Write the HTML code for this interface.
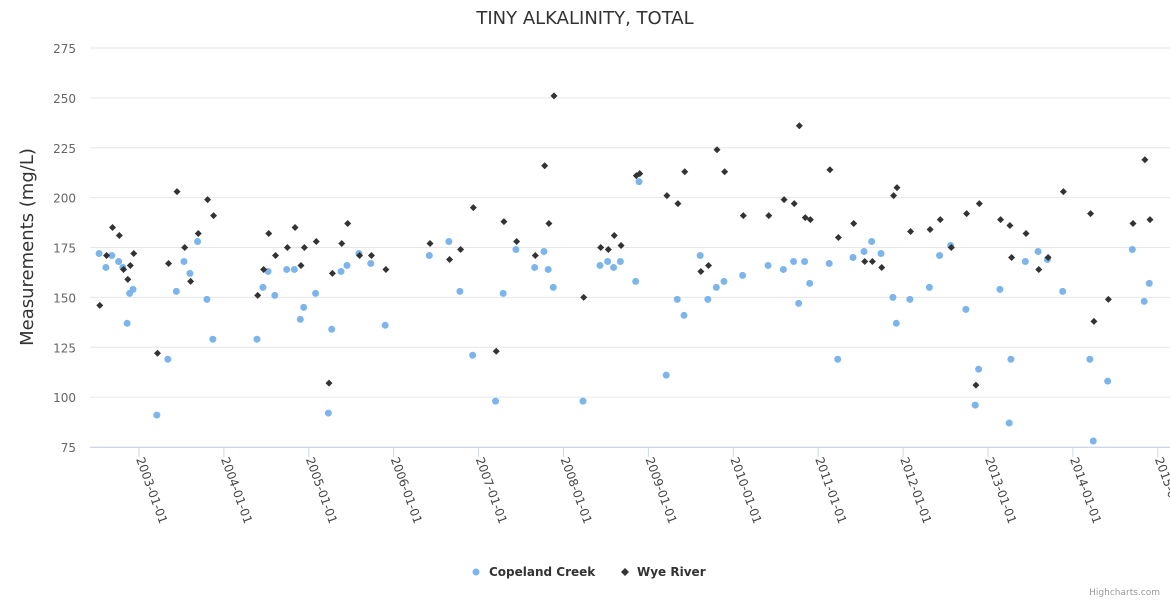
<!DOCTYPE html>
<html><head><meta charset="utf-8"><style>
body{margin:0;background:#fff;font-family:"DejaVu Sans",sans-serif}
svg{display:block}
</style></head><body>
<svg id="chart" width="1170" height="600" font-family="DejaVu Sans, sans-serif">
<rect width="1170" height="600" fill="#fff"/>
<text x="585" y="24" text-anchor="middle" font-size="18" fill="#333">TINY ALKALINITY, TOTAL</text>
<text transform="translate(33,247) rotate(-90)" text-anchor="middle" font-size="18" fill="#333">Measurements (mg/L)</text>
<g id="grid"></g><g id="xaxis"></g><g id="marks"></g>
<g>
<g><circle cx="476" cy="572" r="3.5" fill="#7cb5ec"/><text x="489" y="576" font-size="12" font-weight="bold" fill="#333">Copeland Creek</text></g>
<g><path d="M625 568 L629 572 L625 576 L621 572Z" fill="#333"/><text x="637" y="576" font-size="12" font-weight="bold" fill="#333">Wye River</text></g>
</g>
<text x="1160" y="595" text-anchor="end" font-size="9" fill="#999">Highcharts.com</text>
</svg>
<script>
const dates=[2002.53,2002.61,2002.68,2002.76,2002.81,2002.86,2002.89,2002.93,2003.21,2003.34,2003.44,2003.53,2003.60,2003.69,2003.80,2003.87,2004.39,2004.46,2004.52,2004.60,2004.74,2004.83,2004.90,2004.94,2005.08,2005.23,2005.27,2005.38,2005.45,2005.59,2005.73,2005.90,2006.42,2006.65,2006.78,2006.93,2007.20,2007.29,2007.44,2007.66,2007.77,2007.82,2007.88,2008.23,2008.43,2008.52,2008.59,2008.67,2008.85,2008.89,2009.21,2009.34,2009.42,2009.61,2009.70,2009.80,2009.89,2010.11,2010.41,2010.59,2010.71,2010.77,2010.84,2010.90,2011.13,2011.23,2011.41,2011.54,2011.63,2011.74,2011.88,2011.92,2012.08,2012.31,2012.43,2012.56,2012.74,2012.85,2012.89,2013.14,2013.25,2013.27,2013.44,2013.59,2013.70,2013.88,2014.20,2014.24,2014.41,2014.70,2014.84,2014.90];
const copeland=[172,165,171,168,165,137,152,154,91,119,153,168,162,178,149,129,129,155,163,151,164,164,139,145,152,92,134,163,166,172,167,136,171,178,153,121,98,152,174,165,173,164,155,98,166,168,165,168,158,208,111,149,141,171,149,155,158,161,166,164,168,147,168,157,167,119,170,173,178,172,150,137,149,155,171,176,144,96,114,154,87,119,168,173,169,153,119,78,108,174,148,157];
const wye=[146,171,185,181,164,159,166,172,122,167,203,175,158,182,199,191,151,164,182,171,175,185,166,175,178,107,162,177,187,171,171,164,177,169,174,195,123,188,178,171,216,187,251,150,175,174,181,176,211,212,201,197,213,163,166,224,213,191,191,199,197,236,190,189,214,180,187,168,168,165,201,205,183,184,189,175,192,106,197,189,186,170,182,164,170,203,192,138,149,187,219,189];
const yTicks=[75,100,125,150,175,200,225,250,275];
const xTickYears=[2003,2004,2005,2006,2007,2008,2009,2010,2011,2012,2013,2014,2015];
const X0=90,X1=1170,XMIN=2002.423,XMAX=2015.144,Y0=447,Y1=48;
const xs=v=>X0+(v-XMIN)/(XMAX-XMIN)*(X1-X0);
const ys=v=>Y0-(v-75)/(275-75)*(Y0-Y1);
const NS="http://www.w3.org/2000/svg";
function mk(t,a,p){const e=document.createElementNS(NS,t);for(const k in a)e.setAttribute(k,a[k]);p.appendChild(e);return e;}
const grid=document.getElementById('grid'),xa=document.getElementById('xaxis'),marks=document.getElementById('marks');
yTicks.forEach(t=>{
 const l=mk('line',{x1:X0,x2:X1,y1:ys(t),y2:ys(t),stroke:'#e6e6e6','stroke-width':1},grid);
 
 
 const tx=mk('text',{x:76,y:ys(t)+5,'text-anchor':'end','font-size':12,fill:'#666'},grid);
 tx.textContent=t;
 
 
});
mk('line',{x1:X0,x2:X1,y1:Y0+0.5,y2:Y0+0.5,stroke:'#ccd6eb'},xa);
xTickYears.forEach(y=>{
 const x=xs(y);
 const tk=mk('line',{x1:x,x2:x,y1:Y0,y2:Y0+10,stroke:'#ccd6eb'},xa);
 
 
 const tx=mk('text',{x:x-3,y:Y0+12,'font-size':12,fill:'#444',transform:`rotate(70 ${x-3} ${Y0+12})`},xa);
 tx.textContent=y+'-01-01';
 
 
});
dates.forEach((d,i)=>{
 const c=mk('circle',{cx:xs(d),cy:ys(copeland[i]),r:3.5,fill:'#7cb5ec'},marks);
 
 
});
dates.forEach((d,i)=>{
 const x=xs(d)+0.7,y=ys(wye[i]);
 const p=mk('path',{d:`M${x} ${y-3.5}L${x+3.5} ${y}L${x} ${y+3.5}L${x-3.5} ${y}Z`,fill:'#333'},marks);
 
 
});
</script>
</body></html>
